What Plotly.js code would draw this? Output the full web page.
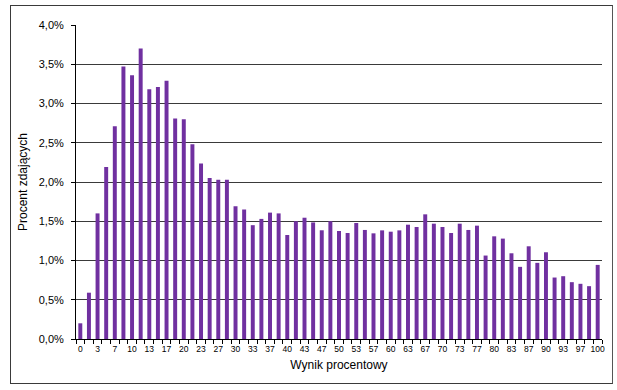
<!DOCTYPE html>
<html>
<head>
<meta charset="utf-8">
<script src="https://cdn.plot.ly/plotly-3.0.1.min.js"></script>
<style>
  html, body { margin: 0; padding: 0; background: #fff; }
  #wrap { position: relative; width: 617px; height: 390px; }
  #chart { width: 617px; height: 390px; }
  #frame { position: absolute; left: 10px; top: 5px; width: 601px; height: 377px;
           border: 1px solid #3a3a3a; border-right: 1px solid #555; pointer-events: none; }
</style>
</head>
<body>
<div id="wrap">
  <div id="chart"></div>
  <div id="frame"></div>
</div>
<script>
// Percent score categories (score out of 60, expressed in %)
const categories = ["0","2","3","5","7","8","10","12","13","15","17","18","20","22","23","25","27","28","30","32",
  "33","35","37","38","40","42","43","45","47","48","50","52","53","55","57","58","60","62","63","65",
  "67","68","70","72","73","75","77","78","80","82","83","85","87","88","90","92","93","95","97","98","100"];

// Share of candidates (%) per score
const values = [0.20,0.59,1.60,2.19,2.71,3.47,3.36,3.70,3.18,3.21,3.29,2.81,2.80,2.48,2.235,2.05,2.03,2.03,1.69,1.65,
  1.45,1.53,1.61,1.60,1.325,1.50,1.545,1.485,1.385,1.50,1.376,1.35,1.478,1.389,1.346,1.384,1.367,1.384,1.456,1.427,
  1.588,1.469,1.427,1.35,1.469,1.389,1.444,1.063,1.308,1.279,1.092,0.919,1.181,0.970,1.105,0.783,0.80,0.724,0.703,0.673,0.944];

// Tick labels: every other category is labelled
const tickLabels = ["0","","3","","7","","10","","13","","17","","20","","23","","27","","30","",
  "33","","37","","40","","43","","47","","50","","53","","57","","60","","63","",
  "67","","70","","73","","77","","80","","83","","87","","90","","93","","97","","100"];

const yTicks = [0,0.5,1,1.5,2,2.5,3,3.5,4];
const yTickLabels = ["0,0%","0,5%","1,0%","1,5%","2,0%","2,5%","3,0%","3,5%","4,0%"];

const trace = {
  type: 'bar',
  x: categories,
  y: values,
  marker: { color: '#7030A0', line: { width: 0 } },
  hoverinfo: 'x+y'
};

const layout = {
  width: 617,
  height: 390,
  margin: { l: 76, r: 15, t: 25, b: 51 },
  paper_bgcolor: '#ffffff',
  plot_bgcolor: '#ffffff',
  separators: ', ',
  font: { family: 'Liberation Sans, Arial, sans-serif', color: '#000' },
  bargap: 0.54,
  showlegend: false,
  xaxis: {
    type: 'category',
    tickmode: 'array',
    tickvals: categories,
    ticktext: tickLabels,
    tickson: 'boundaries',
    ticks: 'outside',
    ticklen: 4,
    tickcolor: '#000',
    ticklabelstandoff: 2,
    tickfont: { size: 8.5, color: '#000' },
    showline: true,
    linecolor: '#000',
    linewidth: 1,
    showgrid: false,
    zeroline: false,
    tickangle: 0,
    title: { text: 'Wynik procentowy', font: { size: 12, color: '#000' }, standoff: 7 }
  },
  yaxis: {
    range: [0, 4],
    tickmode: 'array',
    tickvals: yTicks,
    ticktext: yTickLabels,
    ticks: 'outside',
    ticklen: 4,
    tickcolor: '#000',
    ticklabelstandoff: 5,
    tickfont: { size: 11, color: '#000' },
    showline: true,
    linecolor: '#000',
    linewidth: 1,
    showgrid: true,
    gridcolor: '#3a3a3a',
    gridwidth: 1,
    zeroline: false,
    title: { text: 'Procent zdających', font: { size: 12, color: '#000' }, standoff: 8 }
  }
};

Plotly.newPlot('chart', [trace], layout, { displayModeBar: false, staticPlot: true });
</script>
</body>
</html>
